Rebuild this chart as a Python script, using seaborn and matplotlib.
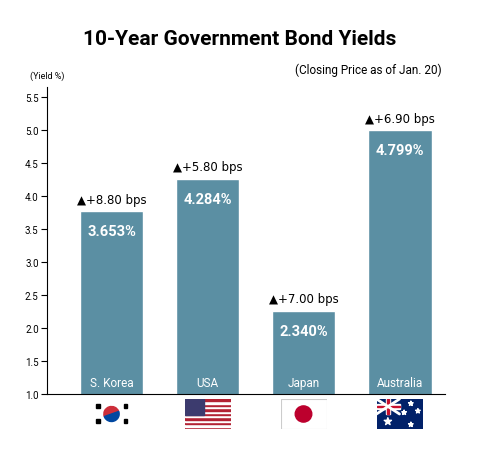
import matplotlib
matplotlib.use("Agg")
import matplotlib.pyplot as plt
import seaborn as sns
import pandas as pd
import numpy as np
from matplotlib.patches import Rectangle, Wedge, Circle

countries = ["S. Korea", "USA", "Japan", "Australia"]
bar_heights = [3.77, 4.26, 2.26, 5.00]
yield_labels = ["3.653%", "4.284%", "2.340%", "4.799%"]
change_labels = ["▲+8.80 bps", "▲+5.80 bps", "▲+7.00 bps", "▲+6.90 bps"]
yticks = [1.0, 1.5, 2.0, 2.5, 3.0, 3.5, 4.0, 4.5, 5.0, 5.5]

sns.set_theme(style="white")
plt.rcParams['font.family'] = ['Roboto', 'DejaVu Sans']
color = "#5b8fa3"

fig = plt.figure(figsize=(4.8, 4.6), dpi=100)
ax = fig.add_axes([47/480, 65/460, 398/480, 307/460])
df = pd.DataFrame({"country": countries, "h": bar_heights})
sns.barplot(data=df, x="country", y="h", color=color, saturation=1, width=0.66, ax=ax)
ax.set_ylim(1.0, 5.65)
ax.set_xlim(-0.672, 3.47)
ax.set_yticks(yticks)
ax.set_yticklabels([f"{t:.1f}" for t in yticks], fontsize=7)
ax.set_xticks([])
ax.set_xlabel(""); ax.set_ylabel("")
for s in ["top", "right"]:
    ax.spines[s].set_visible(False)
for s in ["left", "bottom"]:
    ax.spines[s].set_color("black"); ax.spines[s].set_linewidth(0.8)
ax.tick_params(axis="y", left=True, length=4, width=0.8, pad=2, colors="black")

for i, (h, yl, cl, c) in enumerate(zip(bar_heights, yield_labels, change_labels, countries)):
    ax.text(i, h - 0.3, yl, ha="center", va="center", color="white", fontsize=10.5, fontweight="bold")
    ax.text(i, h + 0.18, cl, ha="center", va="center", color="black", fontsize=8.5,
            family=['DejaVu Sans'])
    ax.text(i, 1.18, c, ha="center", va="center", color="white", fontsize=8.5)

fig.text(0.5, 0.915, "10-Year Government Bond Yields", ha="center", va="center", fontsize=15,
         fontweight="bold", color="black")
fig.text(0.92, 0.847, "(Closing Price as of Jan. 20)", ha="right", va="center", fontsize=8.5, color="black")
fig.text(0.062, 0.835, "(Yield %)", ha="left", va="center", fontsize=6.5, color="black")

# flags
centers = [111.5, 207.5, 303.5, 399.5]
fw, fh = 46, 30
for i, cx in enumerate(centers):
    fa = fig.add_axes([(cx - fw/2)/480, 30/460, fw/480, fh/460])
    fa.set_xlim(0, 1.5); fa.set_ylim(0, 1); fa.axis("off")
    if i == 0:
        fa.add_patch(Rectangle((0, 0), 1.5, 1, color="white"))
        fa.add_patch(Wedge((0.75, 0.5), 0.25, 20, 200, color="#cd2e3a"))
        fa.add_patch(Wedge((0.75, 0.5), 0.25, 200, 380, color="#0047a0"))
        for x0 in [0.25, 1.15]:
            for y0 in [0.2, 0.7]:
                fa.add_patch(Rectangle((x0, y0), 0.12, 0.12, color="black"))
    elif i == 1:
        for k in range(13):
            fa.add_patch(Rectangle((0, k/13), 1.5, 1/13, color="#b22234" if k % 2 == 0 else "white"))
        fa.add_patch(Rectangle((0, 6/13), 0.62, 7/13, color="#3c3b6e"))
    elif i == 2:
        fa.add_patch(Rectangle((0, 0), 1.5, 1, facecolor="white", edgecolor="#cccccc", lw=0.8))
        fa.add_patch(Circle((0.75, 0.5), 0.27, color="#bc002d"))
    else:
        fa.add_patch(Rectangle((0, 0), 1.5, 1, color="#012169"))
        fa.plot([0, 0.75], [0.5, 1], color="white", lw=2)
        fa.plot([0, 0.75], [1, 0.5], color="white", lw=2)
        fa.add_patch(Rectangle((0.3, 0.5), 0.15, 0.5, color="white"))
        fa.add_patch(Rectangle((0, 0.68), 0.75, 0.14, color="white"))
        fa.add_patch(Rectangle((0.34, 0.5), 0.07, 0.5, color="#c8102e"))
        fa.add_patch(Rectangle((0, 0.72), 0.75, 0.06, color="#c8102e"))
        fa.scatter([0.37, 1.12, 0.9, 1.35, 1.12], [0.25, 0.15, 0.55, 0.6, 0.85],
                   marker="*", color="white", s=[30, 12, 12, 12, 12])

fig.savefig("out.png", dpi=100)
